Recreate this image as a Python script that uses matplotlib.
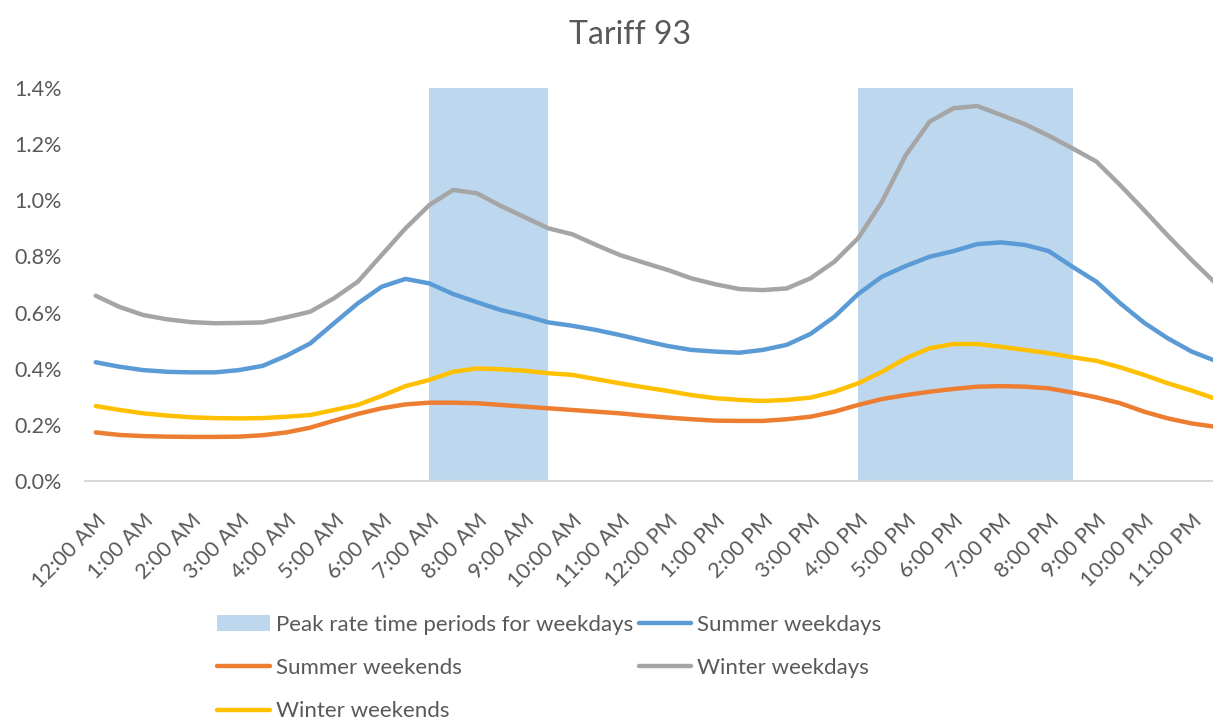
import numpy as np
import matplotlib
matplotlib.use("Agg")
import matplotlib.pyplot as plt
from matplotlib.patches import Patch
from matplotlib.lines import Line2D

# hourly tick labels; data points are every half hour (48 per day)
hour_labels = ["12:00 AM", "1:00 AM", "2:00 AM", "3:00 AM", "4:00 AM", "5:00 AM",
               "6:00 AM", "7:00 AM", "8:00 AM", "9:00 AM", "10:00 AM", "11:00 AM",
               "12:00 PM", "1:00 PM", "2:00 PM", "3:00 PM", "4:00 PM", "5:00 PM",
               "6:00 PM", "7:00 PM", "8:00 PM", "9:00 PM", "10:00 PM", "11:00 PM"]

# share of daily use per half hour, in %
summer_weekdays = [0.423, 0.407, 0.395, 0.389, 0.387, 0.387, 0.395, 0.410, 0.446, 0.490,
                   0.562, 0.633, 0.692, 0.720, 0.704, 0.666, 0.637, 0.609, 0.589, 0.565,
                   0.553, 0.538, 0.520, 0.500, 0.481, 0.467, 0.461, 0.457, 0.467, 0.485,
                   0.524, 0.585, 0.666, 0.728, 0.766, 0.799, 0.819, 0.844, 0.850, 0.841,
                   0.819, 0.763, 0.710, 0.633, 0.564, 0.508, 0.461, 0.428]
summer_weekends = [0.173, 0.164, 0.160, 0.158, 0.157, 0.157, 0.158, 0.163, 0.173, 0.190,
                   0.215, 0.239, 0.259, 0.273, 0.279, 0.279, 0.277, 0.271, 0.265, 0.259,
                   0.253, 0.247, 0.241, 0.233, 0.226, 0.220, 0.215, 0.214, 0.214, 0.220,
                   0.229, 0.247, 0.271, 0.292, 0.306, 0.318, 0.328, 0.336, 0.338, 0.336,
                   0.330, 0.315, 0.298, 0.277, 0.247, 0.223, 0.205, 0.193]
winter_weekdays = [0.660, 0.620, 0.591, 0.576, 0.566, 0.562, 0.563, 0.565, 0.583, 0.603,
                   0.651, 0.710, 0.805, 0.900, 0.983, 1.037, 1.025, 0.980, 0.940, 0.900,
                   0.879, 0.841, 0.805, 0.778, 0.752, 0.722, 0.701, 0.684, 0.680, 0.686,
                   0.722, 0.781, 0.865, 0.995, 1.161, 1.280, 1.328, 1.336, 1.304, 1.271,
                   1.230, 1.185, 1.138, 1.054, 0.965, 0.874, 0.787, 0.705]
winter_weekends = [0.267, 0.253, 0.241, 0.233, 0.227, 0.224, 0.223, 0.224, 0.229, 0.235,
                   0.253, 0.271, 0.303, 0.338, 0.360, 0.389, 0.401, 0.398, 0.393, 0.384,
                   0.378, 0.363, 0.348, 0.334, 0.321, 0.306, 0.295, 0.289, 0.285, 0.289,
                   0.297, 0.318, 0.348, 0.389, 0.437, 0.473, 0.488, 0.488, 0.478, 0.467,
                   0.455, 0.441, 0.428, 0.405, 0.378, 0.348, 0.322, 0.293]
# peak rate periods (7:00-9:30 AM, 4:00-8:30 PM), 1 = peak half hour
peak_flag = [0] * 14 + [1] * 6 + [0] * 12 + [1] * 10 + [0] * 6
peak_height = 1.4

TXT = "#595959"
plt.rcParams["font.family"] = ["Lato", "DejaVu Sans"]

fig = plt.figure(figsize=(12.13, 7.22), dpi=100)
ax = fig.add_axes([0.0701, 0.3338, 0.9418, 0.5443])

x = np.arange(len(summer_weekdays))
peak = np.array(peak_flag) * peak_height
ax.fill_between(x, 0, peak, where=np.array(peak_flag) > 0, color="#BDD7EE", lw=0, zorder=1)

series = [("Summer weekdays", summer_weekdays, "#5B9BD5"),
          ("Summer weekends", summer_weekends, "#ED7D31"),
          ("Winter weekdays", winter_weekdays, "#A5A5A5"),
          ("Winter weekends", winter_weekends, "#FFC000")]
handles = {}
for name, vals, col in series:
    ax.plot(x, vals, color=col, lw=3.2, solid_capstyle="round", zorder=3)
    handles[name] = Line2D([], [], color=col, lw=3.2, solid_capstyle="round")

ax.set_xlim(-0.45, len(x) - 0.5)
ax.set_ylim(0, 1.4)
ax.set_yticks(np.arange(0, 1.41, 0.2))
ax.set_yticklabels([f"{v:.1f}%" for v in np.arange(0, 1.41, 0.2)])
ax.set_xticks(x[::2])
ax.set_xticklabels(hour_labels, rotation=45, ha="right", va="top", rotation_mode="anchor")
ax.tick_params(axis="both", length=0, labelsize=15.5, labelcolor=TXT)
ax.tick_params(axis="y", pad=16.5)
ax.tick_params(axis="x", pad=21)
for s in ("top", "right", "left"):
    ax.spines[s].set_visible(False)
ax.spines["bottom"].set_color("#D9D9D9")
ax.spines["bottom"].set_linewidth(1.5)

fig.text(0.519, 0.952, "Tariff 93", ha="center", va="center", fontsize=23, color=TXT)

peak_handle = Patch(facecolor="#BDD7EE", edgecolor="none", label="Peak rate time periods for weekdays")
order = [(peak_handle, "Peak rate time periods for weekdays"),
         (handles["Summer weekends"], "Summer weekends"),
         (handles["Winter weekends"], "Winter weekends"),
         (handles["Summer weekdays"], "Summer weekdays"),
         (handles["Winter weekdays"], "Winter weekdays")]
leg = fig.legend([h for h, _ in order], [l for _, l in order], ncol=2,
                 loc="upper left", bbox_to_anchor=(0.170, 0.164), frameon=False,
                 fontsize=16, labelcolor=TXT, handlelength=2.35, handletextpad=0.27,
                 columnspacing=0.27, labelspacing=1.05, borderpad=0)

fig.savefig("out.png", dpi=100)
